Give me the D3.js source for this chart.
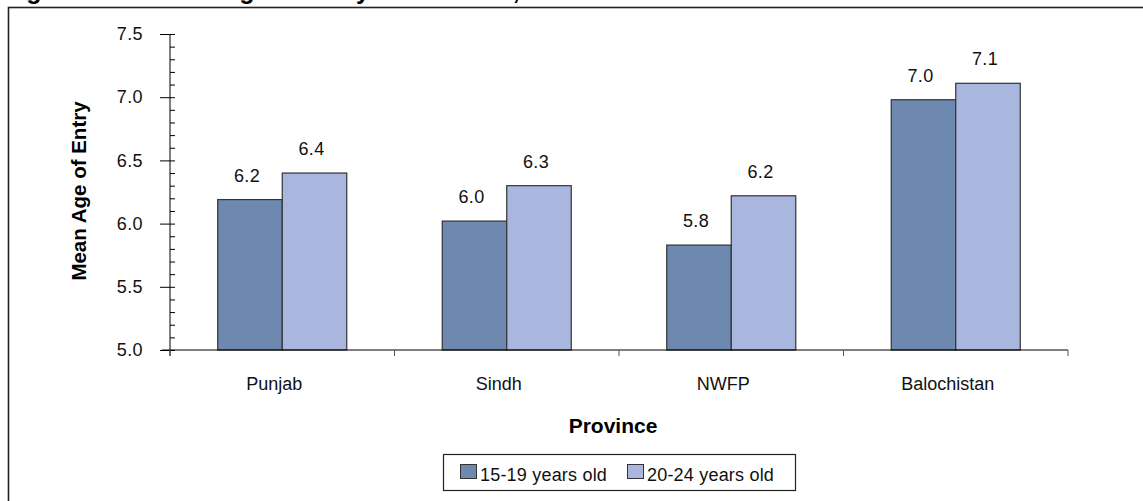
<!DOCTYPE html>
<html>
<head>
<meta charset="utf-8">
<script src="https://cdn.jsdelivr.net/npm/d3@7/dist/d3.min.js"></script>
<style>
  html, body { margin: 0; padding: 0; background: #fff; }
  svg { display: block; font-family: "Liberation Sans", Arial, sans-serif; }
</style>
</head>
<body>
<svg id="chart" width="1143" height="501"></svg>
<script>
// Mean age of entry into school, by province and age group
const provinces = ["Punjab", "Sindh", "NWFP", "Balochistan"];
const seriesNames = ["15-19 years old", "20-24 years old"];
const age15to19 = [6.19, 6.02, 5.83, 6.98];
const age20to24 = [6.40, 6.30, 6.22, 7.11];
const yTicks = [5.0, 5.5, 6.0, 6.5, 7.0, 7.5];
const seriesColors = ["#6D89AF", "#A9B7DE"];

const svg = d3.select("#chart");
const fmt = d3.format(".1f");

// Frame around the figure and the (partly cropped) heading above it
svg.append("text")
  .attr("x", 4).attr("y", -1)
  .attr("font-size", 25).attr("font-weight", "bold").attr("fill", "#000")
  .text("Figure 3.10: Mean Age of Entry into School, 2004-05");

svg.append("rect")
  .attr("x", 8.5).attr("y", 7.5).attr("width", 1160).attr("height", 520)
  .attr("fill", "none").attr("stroke", "#222").attr("stroke-width", 1.6);

const plot = { left: 170, right: 1068, top: 34, bottom: 350 };

const x0 = d3.scaleBand().domain(provinces).range([plot.left, plot.right]).padding(0);
const x1 = d3.scaleBand().domain(seriesNames).range([0, x0.bandwidth()])
  .paddingInner(0).paddingOuter(0.74);
const y = d3.scaleLinear().domain([5.0, 7.5]).range([plot.bottom, plot.top]);

const rows = provinces.map((p, i) => ({
  province: p,
  values: [
    { series: seriesNames[0], value: age15to19[i], color: seriesColors[0] },
    { series: seriesNames[1], value: age20to24[i], color: seriesColors[1] }
  ]
}));

// Bars
const groups = svg.append("g").selectAll("g").data(rows).join("g")
  .attr("transform", d => `translate(${x0(d.province)},0)`);

groups.selectAll("rect").data(d => d.values).join("rect")
  .attr("x", d => x1(d.series))
  .attr("y", d => y(d.value))
  .attr("width", x1.bandwidth())
  .attr("height", d => y(5.0) - y(d.value))
  .attr("fill", d => d.color)
  .attr("stroke", "#333").attr("stroke-width", 1.2);

groups.selectAll("text").data(d => d.values).join("text")
  .attr("x", d => x1(d.series) + x1.bandwidth() / 2 - 3)
  .attr("y", d => y(d.value) - 18)
  .attr("text-anchor", "middle")
  .attr("font-size", 18).attr("letter-spacing", 0.4).attr("fill", "#111")
  .text(d => fmt(d.value));

// Y axis: major ticks crossing the line, minor ticks inside
const yAxis = svg.append("g").attr("transform", `translate(${plot.left},0)`)
  .call(d3.axisLeft(y).tickValues(yTicks).tickFormat(fmt).tickSize(10).tickPadding(17));
yAxis.select(".domain").attr("stroke", "#000").attr("d", `M0,${plot.top}V${plot.bottom + 6}`);
yAxis.selectAll(".tick line").attr("stroke", "#000");
yAxis.selectAll(".tick text")
  .attr("font-size", 18).attr("letter-spacing", 0.4).attr("fill", "#111")
  .attr("font-family", "Liberation Sans, Arial, sans-serif");

const minorTicks = d3.range(50, 76).map(v => v / 10);
svg.append("g").attr("transform", `translate(${plot.left},0)`)
  .call(d3.axisRight(y).tickValues(minorTicks).tickSize(5).tickFormat(""))
  .call(g => g.select(".domain").remove())
  .selectAll(".tick line").attr("stroke", "#000");

// X axis: line with boundary ticks between provinces
svg.append("line")
  .attr("x1", plot.left - 8).attr("x2", plot.right)
  .attr("y1", plot.bottom).attr("y2", plot.bottom)
  .attr("stroke", "#000").attr("stroke-width", 1.2);
const boundaries = provinces.map(p => x0(p)).concat([plot.right]);
svg.append("g").selectAll("line").data(boundaries).join("line")
  .attr("x1", d => d).attr("x2", d => d)
  .attr("y1", plot.bottom).attr("y2", plot.bottom + 6)
  .attr("stroke", "#555").attr("stroke-width", 1);

svg.append("g").selectAll("text").data(provinces).join("text")
  .attr("x", d => x0(d) + x0.bandwidth() / 2 - 8)
  .attr("y", 390)
  .attr("text-anchor", "middle")
  .attr("font-size", 18).attr("fill", "#111")
  .text(d => d);

// Axis titles
svg.append("text")
  .attr("x", 613).attr("y", 433)
  .attr("text-anchor", "middle")
  .attr("font-size", 21).attr("font-weight", "bold")
  .text("Province");

svg.append("text")
  .attr("transform", "translate(86,191) rotate(-90)")
  .attr("text-anchor", "middle")
  .attr("font-size", 20.5).attr("font-weight", "bold")
  .text("Mean Age of Entry");

// Legend
const legend = svg.append("g");
legend.append("rect")
  .attr("x", 443.5).attr("y", 454.5).attr("width", 352).attr("height", 36)
  .attr("fill", "#fff").attr("stroke", "#222").attr("stroke-width", 1.2);
const legendX = [460, 627];
const items = legend.selectAll("g.item").data(seriesNames).join("g")
  .attr("class", "item")
  .attr("transform", (d, i) => `translate(${legendX[i]},0)`);
items.append("rect")
  .attr("x", 0.5).attr("y", 464.5).attr("width", 16).attr("height", 14)
  .attr("fill", (d, i) => seriesColors[i]).attr("stroke", "#333").attr("stroke-width", 1);
items.append("text")
  .attr("x", 20).attr("y", 481)
  .attr("font-size", 18).attr("letter-spacing", 0.2).attr("fill", "#111")
  .text(d => d);
</script>
</body>
</html>
